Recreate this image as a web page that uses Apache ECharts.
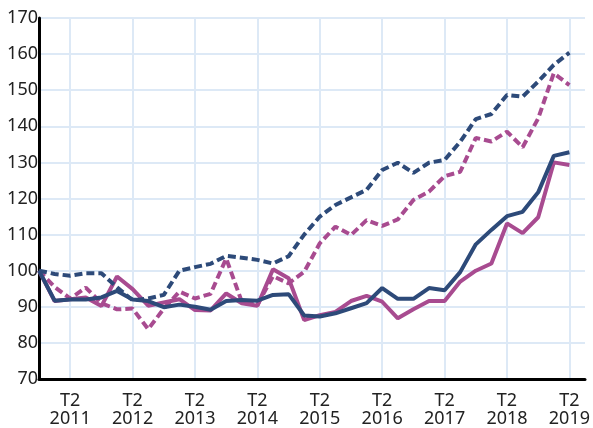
<!DOCTYPE html>
<html>
<head>
<meta charset="utf-8">
<script src="https://cdn.jsdelivr.net/npm/echarts@6/dist/echarts.min.js"></script>
<style>
    html, body { margin: 0; padding: 0; background: #fff; }
    #chart { width: 593px; height: 428px; }
</style>
</head>
<body>
<div id="chart"></div>
<script>
// trimestres, du T4 2010 au T3 2019 (le dernier reste vide)
let quarters = [
    'T4\n2010',
    'T1\n2011', 'T2\n2011', 'T3\n2011', 'T4\n2011',
    'T1\n2012', 'T2\n2012', 'T3\n2012', 'T4\n2012',
    'T1\n2013', 'T2\n2013', 'T3\n2013', 'T4\n2013',
    'T1\n2014', 'T2\n2014', 'T3\n2014', 'T4\n2014',
    'T1\n2015', 'T2\n2015', 'T3\n2015', 'T4\n2015',
    'T1\n2016', 'T2\n2016', 'T3\n2016', 'T4\n2016',
    'T1\n2017', 'T2\n2017', 'T3\n2017', 'T4\n2017',
    'T1\n2018', 'T2\n2018', 'T3\n2018', 'T4\n2018',
    'T1\n2019', 'T2\n2019', 'T3\n2019'
]

let yTicks = [70, 80, 90, 100, 110, 120, 130, 140, 150, 160, 170]

let navySolid = [100, 91.7, 92, 92, 92.6, 94.4, 92, 91.6, 89.9, 90.6, 90, 89.2, 91.6, 91.9, 91.7, 93.3, 93.5, 87.6, 87.3, 88.2, 89.6, 91, 95.2, 92.2, 92.2, 95.2, 94.6, 99.6, 107.3, 111.3, 115.1, 116.3, 121.7, 131.8, 132.8]
let navyDashed = [100, 99.1, 98.6, 99.3, 99.3, 95.4, 91.8, 92.3, 93.3, 100, 101, 101.9, 104.1, 103.6, 103, 102, 104, 110, 115, 118.2, 120.3, 122.4, 127.9, 129.9, 127.1, 129.9, 130.7, 135.7, 142, 143.4, 148.7, 148.2, 152.4, 157, 160.4]
let pinkSolid = [100, 91.6, 92.1, 92.6, 90.2, 98.4, 94.9, 90.3, 91.2, 92.1, 89.1, 89, 93.7, 91, 90.3, 100.4, 97.9, 86.3, 87.7, 88.6, 91.6, 93, 91.4, 86.8, 89.3, 91.6, 91.6, 97, 100, 102, 113.1, 110.4, 114.8, 130, 129.3]
let pinkDashed = [100, 95.5, 92.3, 95.3, 91, 89.3, 89.5, 83.8, 89.5, 94.2, 92.3, 93.6, 103.4, 91.4, 90.5, 98.5, 96.5, 99.7, 107.6, 112.2, 109.9, 114, 112.4, 114.2, 119.6, 121.9, 126.2, 127.4, 136.8, 135.8, 138.5, 134.2, 142.2, 154.7, 151.4]

let navy = '#2d4a79'
let pink = '#a84b90'
let gridColor = '#dde9f6'

// seuls les T2 sont affichés
function isT2 (index) {
    return index % 4 === 2 && index <= 34
}

let chart = echarts.init(document.getElementById('chart'))
let option = {
    animation: false,
    textStyle: { fontFamily: 'Noto Sans' },
    grid: { left: 39, right: 8, top: 18, bottom: 49 },
    xAxis: {
        type: 'category',
        boundaryGap: false,
        data: quarters,
        axisLine: { lineStyle: { color: '#000', width: 3 } },
        axisTick: { show: false },
        axisLabel: {
            interval: isT2,
            color: '#222',
            fontSize: 18,
            lineHeight: 18,
            margin: 13
        },
        splitLine: {
            show: true,
            interval: isT2,
            lineStyle: { color: gridColor, width: 2 }
        }
    },
    yAxis: {
        type: 'value',
        min: yTicks[0],
        max: yTicks[yTicks.length - 1],
        interval: 10,
        axisLine: { show: true, lineStyle: { color: '#000', width: 3 } },
        axisTick: { show: false },
        axisLabel: { color: '#222', fontSize: 18, margin: 1 },
        splitLine: { lineStyle: { color: gridColor, width: 2 } }
    },
    series: [
        {
            type: 'line',
            data: pinkDashed,
            symbol: 'none',
            lineStyle: { color: pink, width: 4, type: [8, 4] }
        },
        {
            type: 'line',
            data: pinkSolid,
            symbol: 'none',
            lineStyle: { color: pink, width: 4 }
        },
        {
            type: 'line',
            data: navyDashed,
            symbol: 'none',
            lineStyle: { color: navy, width: 4, type: [8, 4] }
        },
        {
            type: 'line',
            data: navySolid,
            symbol: 'none',
            lineStyle: { color: navy, width: 4 }
        }
    ]
}
chart.setOption(option)
</script>
</body>
</html>
